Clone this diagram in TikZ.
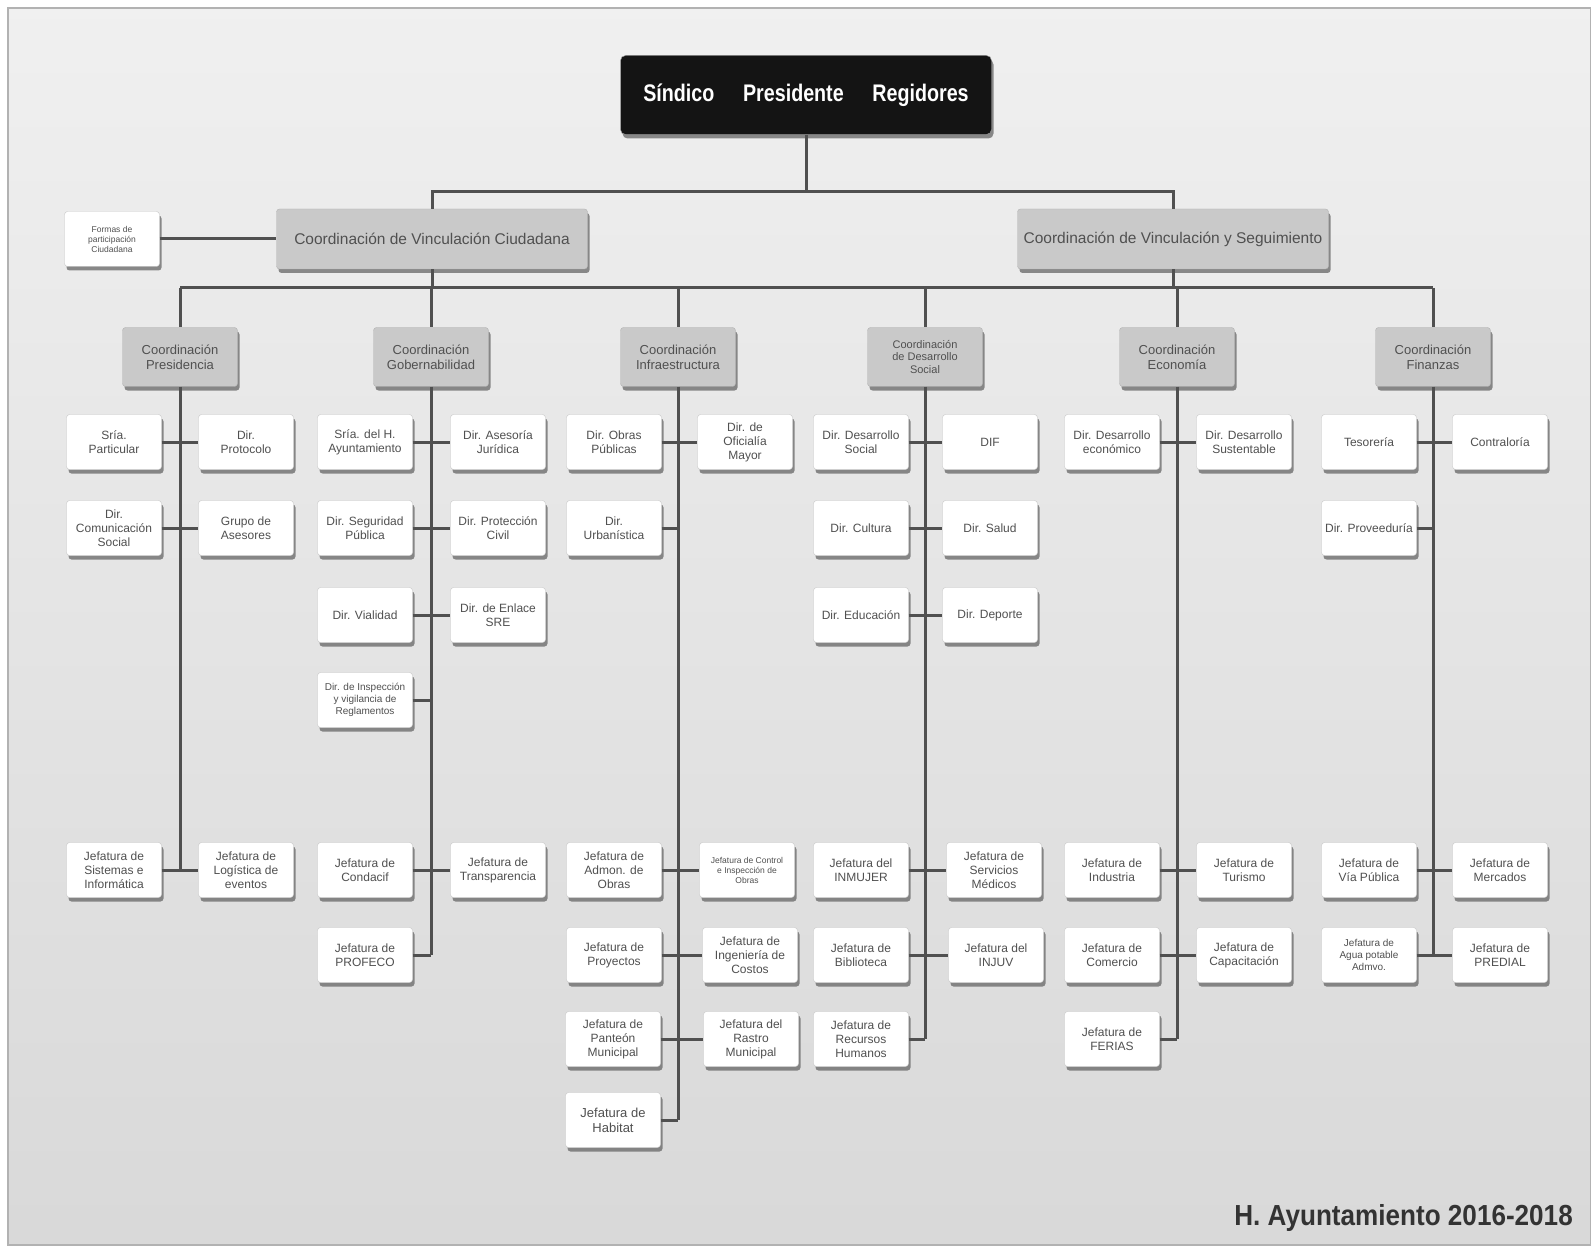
\documentclass[tikz,border=0pt]{standalone}
\usepackage{fontspec}
\usepackage{graphicx}
\setmainfont{Liberation Sans}
\usetikzlibrary{shadows}
\definecolor{txt}{HTML}{505050}
\definecolor{cgray}{HTML}{C9C9C9}
\definecolor{lne}{HTML}{505050}
\tikzset{
  sbox/.style={draw=gray!45, fill=white, rounded corners=3pt, minimum width=95pt, minimum height=55pt,
    align=center, inner sep=2pt, text=txt, font=\fontsize{12}{14}\selectfont,
    drop shadow={shadow xshift=2pt, shadow yshift=-4pt, fill=black!60, opacity=0.75}},
  cbox/.style={sbox, fill=cgray, draw=gray!60, minimum width=115pt, minimum height=59pt, font=\fontsize{13}{15}\selectfont},
  bigbox/.style={cbox, minimum width=311pt, minimum height=60pt, font=\fontsize{15.5}{18}\selectfont},
  conn/.style={draw=lne, line width=3pt},
  tiny/.style={font=\fontsize{8.5}{10}\selectfont},
  small/.style={font=\fontsize{10}{12}\selectfont}
}
\newcommand{\cpair}[2]{\draw[conn] (#1.east) -- (#2.west);}
\newcommand{\clone}[2]{\draw[conn] (#1.east) -- (#1.east -| #2.south);}
\begin{document}
\begin{tikzpicture}[x=1pt,y=-1pt]
\useasboundingbox (0,0) rectangle (1591,1249);
\fill[white] (0,0) rectangle (1591,1249);
\fill[top color=black!6, bottom color=black!15] (8,8) rectangle (1591,1245);
\draw[gray!60, line width=2pt] (8,8) rectangle (1591,1245);

% top
\node[draw=gray!70, fill=black!92, rounded corners=5pt, minimum width=371pt, minimum height=79pt,
  drop shadow={shadow xshift=2pt, shadow yshift=-4pt, fill=black!60, opacity=0.75},
  text=white, font=\bfseries\fontsize{24}{28}\selectfont] (top) at (806,95)
  {\scalebox{0.82}[1]{Síndico\hspace{35pt}Presidente\hspace{35pt}Regidores}};

\node[bigbox] (cvc) at (432,239) {Coordinación de Vinculación Ciudadana};
\node[bigbox] (cvs) at (1173,239) {Coordinación de Vinculación y Seguimiento};
\node[sbox, tiny] (formas) at (112,239) {Formas de\\participación\\Ciudadana};

\coordinate (hb) at (0,192);
\coordinate (hb2) at (0,288);

% coordination boxes
\node[cbox] (cP) at (180,357) {Coordinación\\Presidencia};
\node[cbox] (cG) at (431,357) {Coordinación\\Gobernabilidad};
\node[cbox] (cI) at (678,357) {Coordinación\\Infraestructura};
\node[cbox, font=\fontsize{11}{12.5}\selectfont] (cD) at (925,357) {Coordinación\\de Desarrollo\\Social};
\node[cbox] (cE) at (1177,357) {Coordinación\\Economía};
\node[cbox] (cF) at (1433,357) {Coordinación\\Finanzas};

% column P
\node[sbox] (pL1) at (114,442) {Sría.\\Particular};
\node[sbox] (pR1) at (246,442) {Dir.\\Protocolo};
\node[sbox] (pL2) at (114,528) {Dir.\\Comunicación\\Social};
\node[sbox] (pR2) at (246,528) {Grupo de\\Asesores};
\node[sbox] (pLb1) at (114,870) {Jefatura de\\Sistemas e\\Informática};
\node[sbox] (pRb1) at (246,870) {Jefatura de\\Logística de\\eventos};

% column G
\node[sbox] (gL1) at (365,442) {Sría. del H.\\Ayuntamiento};
\node[sbox] (gR1) at (498,442) {Dir. Asesoría\\Jurídica};
\node[sbox] (gL2) at (365,528) {Dir. Seguridad\\Pública};
\node[sbox] (gR2) at (498,528) {Dir. Protección\\Civil};
\node[sbox] (gL3) at (365,615) {Dir. Vialidad};
\node[sbox] (gR3) at (498,615) {Dir. de Enlace\\SRE};
\node[sbox, small] (gL4) at (365,700) {Dir. de Inspección\\y vigilancia de\\Reglamentos};
\node[sbox] (gLb1) at (365,870) {Jefatura de\\Condacif};
\node[sbox] (gRb1) at (498,870) {Jefatura de\\Transparencia};
\node[sbox] (gLb2) at (365,955) {Jefatura de\\PROFECO};

% column I
\node[sbox] (iL1) at (614,442) {Dir. Obras\\Públicas};
\node[sbox] (iR1) at (745,442) {Dir. de\\Oficialía\\Mayor};
\node[sbox] (iL2) at (614,528) {Dir.\\Urbanística};
\node[sbox] (iLb1) at (614,870) {Jefatura de\\Admon. de\\Obras};
\node[sbox, tiny] (iRb1) at (747,870) {Jefatura de Control\\e Inspección de\\Obras};
\node[sbox] (iLb2) at (614,955) {Jefatura de\\Proyectos};
\node[sbox] (iRb2) at (750,955) {Jefatura de\\Ingeniería de\\Costos};
\node[sbox] (iLb3) at (613,1039) {Jefatura de\\Panteón\\Municipal};
\node[sbox] (iRb3) at (751,1039) {Jefatura del\\Rastro\\Municipal};
\node[sbox, font=\fontsize{13}{15}\selectfont] (iLb4) at (613,1120) {Jefatura de\\Habitat};

% column D
\node[sbox] (dL1) at (861,442) {Dir. Desarrollo\\Social};
\node[sbox] (dR1) at (990,442) {DIF};
\node[sbox] (dL2) at (861,528) {Dir. Cultura};
\node[sbox] (dR2) at (990,528) {Dir. Salud};
\node[sbox] (dL3) at (861,615) {Dir. Educación};
\node[sbox] (dR3) at (990,615) {Dir. Deporte};
\node[sbox] (dLb1) at (861,870) {Jefatura del\\INMUJER};
\node[sbox] (dRb1) at (994,870) {Jefatura de\\Servicios\\Médicos};
\node[sbox] (dLb2) at (861,955) {Jefatura de\\Biblioteca};
\node[sbox] (dRb2) at (996,955) {Jefatura del\\INJUV};
\node[sbox] (dLb3) at (861,1039) {Jefatura de\\Recursos\\Humanos};

% column E
\node[sbox] (eL1) at (1112,442) {Dir. Desarrollo\\económico};
\node[sbox] (eR1) at (1244,442) {Dir. Desarrollo\\Sustentable};
\node[sbox] (eLb1) at (1112,870) {Jefatura de\\Industria};
\node[sbox] (eRb1) at (1244,870) {Jefatura de\\Turismo};
\node[sbox] (eLb2) at (1112,955) {Jefatura de\\Comercio};
\node[sbox] (eRb2) at (1244,955) {Jefatura de\\Capacitación};
\node[sbox] (eLb3) at (1112,1039) {Jefatura de\\FERIAS};

% column F
\node[sbox] (fL1) at (1369,442) {Tesorería};
\node[sbox] (fR1) at (1500,442) {Contraloría};
\node[sbox] (fL2) at (1369,528) {Dir. Proveeduría};
\node[sbox] (fLb1) at (1369,870) {Jefatura de\\Vía Pública};
\node[sbox] (fRb1) at (1500,870) {Jefatura de\\Mercados};
\node[sbox, small] (fLb2) at (1369,955) {Jefatura de\\Agua potable\\Admvo.};
\node[sbox] (fRb2) at (1500,955) {Jefatura de\\PREDIAL};

% footer
\node[anchor=base east, inner sep=0pt, text=black!80, font=\bfseries\fontsize{29}{32}\selectfont] (foot) at (1573,1225)
  {\scalebox{0.9}[1]{H. Ayuntamiento 2016-2018}};

% top connectors
\draw[conn] (top.south) -- (top.south |- hb);
\draw[conn] (cvc.north) -- (cvc.north |- hb) -- (cvs.north |- hb) -- (cvs.north);
\draw[conn] (formas.east) -- (cvc.west);
\draw[conn] (cvc.south) -- (cvc.south |- hb2);
\draw[conn] (cvs.south) -- (cvs.south |- hb2);
\draw[conn] (cP.north |- hb2) -- (cF.north |- hb2);
\foreach \c in {cP,cG,cI,cD,cE,cF} { \draw[conn] (\c.north |- hb2) -- (\c.north); }

% spines
\draw[conn] (cP.south) -- (cP.south |- pLb1.east);
\draw[conn] (cG.south) -- (cG.south |- gLb2.east);
\draw[conn] (cI.south) -- (cI.south |- iLb4.east);
\draw[conn] (cD.south) -- (cD.south |- dLb3.east);
\draw[conn] (cE.south) -- (cE.south |- eLb3.east);
\draw[conn] (cF.south) -- (cF.south |- fLb2.east);

% rows
\cpair{pL1}{pR1} \cpair{pL2}{pR2} \cpair{pLb1}{pRb1}
\cpair{gL1}{gR1} \cpair{gL2}{gR2} \cpair{gL3}{gR3} \clone{gL4}{cG} \cpair{gLb1}{gRb1} \clone{gLb2}{cG}
\cpair{iL1}{iR1} \clone{iL2}{cI} \cpair{iLb1}{iRb1} \cpair{iLb2}{iRb2} \cpair{iLb3}{iRb3} \clone{iLb4}{cI}
\cpair{dL1}{dR1} \cpair{dL2}{dR2} \cpair{dL3}{dR3} \cpair{dLb1}{dRb1} \cpair{dLb2}{dRb2} \clone{dLb3}{cD}
\cpair{eL1}{eR1} \cpair{eLb1}{eRb1} \cpair{eLb2}{eRb2} \clone{eLb3}{cE}
\cpair{fL1}{fR1} \clone{fL2}{cF} \cpair{fLb1}{fRb1} \cpair{fLb2}{fRb2}
\end{tikzpicture}
\end{document}
